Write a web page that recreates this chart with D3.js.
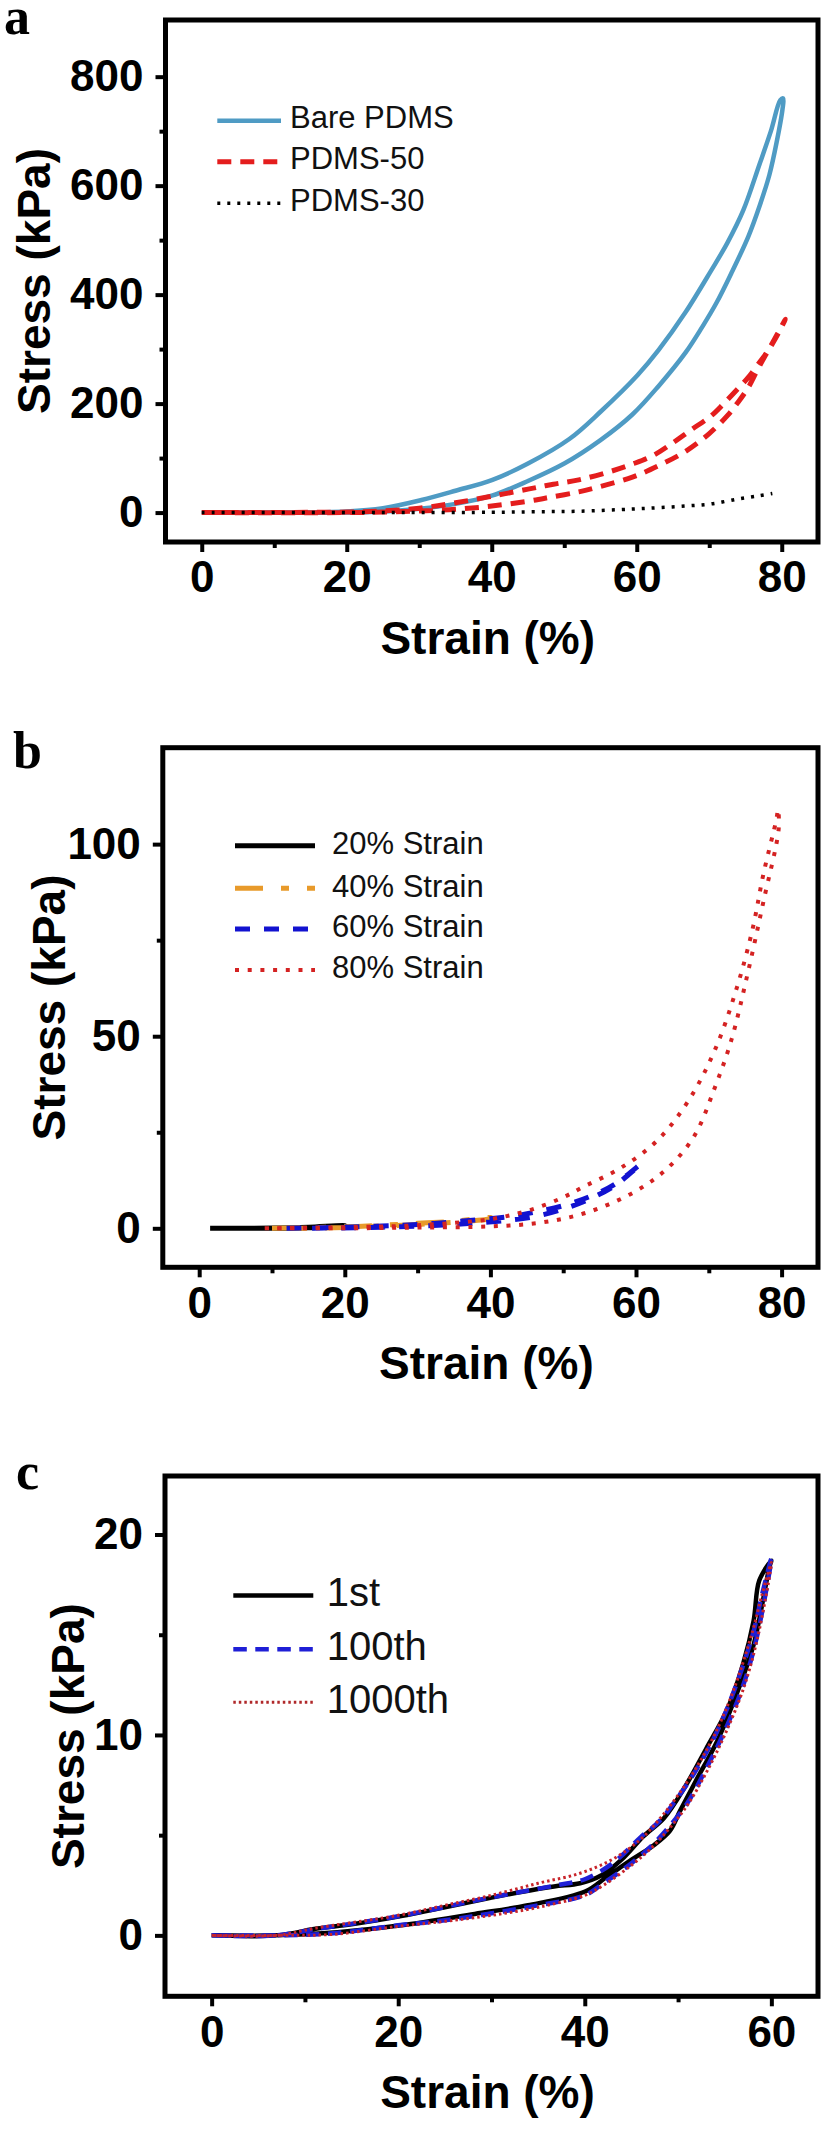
<!DOCTYPE html>
<html>
<head>
<meta charset="utf-8">
<script src="https://cdn.jsdelivr.net/npm/d3@7"></script>
<style>
  html, body { margin: 0; padding: 0; background: #fff; }
  svg { display: block; }
</style>
</head>
<body>
<div id="chart"></div>
<script>
// ---------------- DATA ----------------
// Panel a: tick labels
const aXTicks = [0, 20, 40, 60, 80];
const aYTicks = [0, 200, 400, 600, 800];
const aXMinor = [10, 30, 50, 70];
const aYMinor = [100, 300, 500, 700];
const aSeriesNames = ["Bare PDMS", "PDMS-50", "PDMS-30"];
// Bare PDMS loop (loading then unloading)
const bareStrain = [0, 10, 20, 25, 30.3, 35, 40.1, 45, 50.7, 55, 60.1, 63, 66.7, 70.3, 72.5, 74.7, 76.9, 78.5, 79.8, 80.2,
                    80.1, 79.3, 78.3, 77, 75.4, 73, 71, 69, 66.7, 63, 59.4, 55, 50, 45, 40, 35, 30, 25, 20, 10, 0];
const bareStress = [0, 0, 2, 8, 23, 40, 60, 90, 135, 185, 252, 298, 367, 445, 495, 555, 638, 700, 757, 760,
                    740, 680, 620, 565, 507, 438, 385, 340, 293, 232, 180, 133, 90, 58, 31, 16, 7, 2, 0, 0, 0];
// PDMS-50 loop
const p50Strain = [0, 20, 25, 30, 35, 40, 45, 48.5, 52, 56.5, 59.4, 62.3, 65.2, 67.4, 70.3, 72, 74, 75.5, 77, 78, 79, 80.5,
                   79.8, 78.5, 77.6, 76.5, 75.4, 74, 72.5, 70, 66.7, 63, 59.4, 55, 52, 48, 45, 40, 35, 30, 25, 20, 0];
const p50Stress = [0, 1, 3, 8, 18, 30, 43, 52, 60, 76, 89, 105, 130, 151, 178, 200, 228, 250, 277, 295, 318, 355,
                   336, 305, 285, 258, 230, 203, 178, 145, 112, 86, 65, 48, 38, 28, 21, 12, 6, 3, 1, 0, 0];
// PDMS-30 curve
const p30Strain = [0, 20, 30, 40, 46, 52, 59.4, 63, 66.7, 70.3, 74, 76.9, 78.7];
const p30Stress = [0, 0, 0, 0.5, 1.5, 2.5, 6.5, 9, 12, 16, 25, 31, 35];

// Panel b
const bXTicks = [0, 20, 40, 60, 80];
const bYTicks = [0, 50, 100];
const bXMinor = [10, 30, 50, 70];
const bYMinor = [25, 75];
const bSeriesNames = ["20% Strain", "40% Strain", "60% Strain", "80% Strain"];
const s20Strain = [1.5, 10, 15, 20, 20.1, 15, 10, 1.5];
const s20Stress = [0, 0.05, 0.25, 0.7, 0.6, 0.15, 0, 0];
const s40Strain = [10, 20, 25, 30, 35, 40, 40.2, 35, 30, 25, 20, 15, 10];
const s40Stress = [0, 0.4, 0.8, 1.3, 1.8, 2.8, 2.6, 1.6, 1.0, 0.6, 0.2, 0, 0];
const s60Strain = [12, 20, 30, 34.4, 42.5, 46.1, 50.2, 53.8, 57, 60.7, 59, 57, 53.5, 50, 46, 42, 35, 25, 15, 12];
const s60Stress = [0, 0.3, 1.0, 1.6, 3.0, 4.2, 6.0, 8.4, 11.4, 16.8, 14, 11, 7.5, 5, 3, 2, 1, 0.3, 0, 0];
const s80Strain = [9, 20, 30, 40, 45, 49.7, 53, 57.8, 62.9, 67.3, 70.9, 73.8, 76, 77.5, 79.3, 79.5,
                   79.6, 77.5, 75.3, 73.1, 70.9, 68, 64.3, 59.9, 53.4, 47, 40, 30, 20, 9];
const s80Stress = [0, 0.3, 0.8, 2.4, 4.5, 7.8, 11, 15.6, 22.8, 33.5, 46.7, 62.3, 77.8, 92.2, 106.6, 109,
                   104, 85, 66, 49, 37, 24, 15.6, 9.6, 4.2, 1.5, 0.5, 0.2, 0, 0];

// Panel c
const cXTicks = [0, 20, 40, 60];
const cYTicks = [0, 10, 20];
const cXMinor = [10, 30, 50];
const cYMinor = [5, 15];
const cSeriesNames = ["1st", "100th", "1000th"];
const c1Strain = [0, 7, 11.3, 15, 20.3, 25, 29.9, 33, 36.7, 39.5, 41.8, 44, 46.3, 48.5, 50.8, 53, 55.3, 57, 58.1, 58.7, 60,
                  59.8, 58.1, 56.4, 54.2, 51.9, 50.2, 49.1, 47.4, 45.1, 42.3, 40.1, 33.9, 28.2, 20.3, 13.5, 6.8, 0];
const c1Stress = [0, 0, 0.34, 0.55, 0.96, 1.4, 1.87, 2.15, 2.44, 2.6, 3.0, 3.8, 4.95, 5.86, 7.46, 9.3, 11.3, 13.6, 15.7, 17.7, 18.7,
                  18.4, 14.5, 12.2, 9.7, 7.7, 6.2, 5.2, 4.5, 3.8, 2.9, 2.2, 1.5, 1.07, 0.5, 0.16, 0, 0];
const c100Strain = [0, 7, 11, 20, 30, 37, 40, 43, 46, 48, 50, 52, 54, 56, 58, 59, 60,
                    58.5, 57, 55, 53, 51, 49, 47, 45, 42, 40, 35, 30, 25, 20, 13, 7, 0];
const c100Stress = [0, 0, 0.3, 0.95, 1.9, 2.5, 2.8, 3.6, 4.9, 5.7, 6.9, 8.3, 10, 12.2, 15, 17, 18.8,
                    15, 12.5, 10.2, 8.3, 6.6, 5.4, 4.4, 3.6, 2.6, 2.0, 1.5, 1.1, 0.75, 0.5, 0.1, 0, 0];
const c1000Strain = [0, 7, 11, 20, 25, 30, 35, 39.5, 43, 46, 48, 50, 52, 54, 56, 58, 59, 60,
                     58.5, 57, 55, 53, 51, 49, 47, 45, 42, 40, 35, 30, 25, 20, 13, 7, 0];
const c1000Stress = [0, 0, 0.35, 1.0, 1.5, 2.0, 2.6, 3.1, 3.8, 4.8, 5.8, 7.0, 8.4, 10.1, 12.3, 15.2, 17, 18.6,
                     14.8, 12.3, 10, 8.1, 6.5, 5.3, 4.3, 3.5, 2.5, 2.0, 1.4, 1.0, 0.7, 0.45, 0.05, 0, 0];

// ---------------- DRAWING ----------------
const W = 826, H = 2138;
const svg = d3.select("#chart").append("svg").attr("width", W).attr("height", H)
  .style("background", "#fff");
svg.append("rect").attr("width", W).attr("height", H).attr("fill", "#fff");

const SANS = "'Liberation Sans', Arial, Helvetica, sans-serif";
const SERIF = "'Liberation Serif', 'Times New Roman', serif";

function zip(xs, ys) { return xs.map((x, i) => [x, ys[i]]); }

function drawPanel(p) {
  const g = svg.append("g");
  const x = d3.scaleLinear().domain(p.xDomain).range([p.left, p.right]);
  const y = d3.scaleLinear().domain(p.yDomain).range([p.bottom, p.top]);
  const line = d3.line().x(d => x(d[0])).y(d => y(d[1])).curve(d3.curveCatmullRom.alpha(0.5));

  // curves
  p.series.forEach(s => {
    g.append("path")
      .attr("d", line(zip(s.xs, s.ys)))
      .attr("fill", "none")
      .attr("stroke", s.color)
      .attr("stroke-width", s.width)
      .attr("stroke-dasharray", s.dash || null)
      .attr("stroke-linejoin", "round");
  });

  // axes
  const styleAxis = (ax) => {
    ax.select(".domain").remove();
    ax.selectAll(".tick line").attr("stroke", "#000").attr("stroke-width", 4);
    ax.selectAll(".tick text")
      .attr("fill", "#000")
      .style("font-family", SANS)
      .style("font-weight", "bold")
      .style("font-size", "44px");
  };
  const xAx = g.append("g").attr("transform", `translate(0,${p.bottom})`)
    .call(d3.axisBottom(x).tickValues(p.xTicks).tickSize(10).tickPadding(9).tickFormat(d3.format("d")));
  styleAxis(xAx);
  const xMin = g.append("g").attr("transform", `translate(0,${p.bottom})`)
    .call(d3.axisBottom(x).tickValues(p.xMinor).tickSize(6).tickFormat(""));
  styleAxis(xMin);
  const yAx = g.append("g").attr("transform", `translate(${p.left},0)`)
    .call(d3.axisLeft(y).tickValues(p.yTicks).tickSize(10).tickPadding(12).tickFormat(d3.format("d")));
  styleAxis(yAx);
  const yMin = g.append("g").attr("transform", `translate(${p.left},0)`)
    .call(d3.axisLeft(y).tickValues(p.yMinor).tickSize(6).tickFormat(""));
  styleAxis(yMin);

  // frame
  g.append("rect")
    .attr("x", p.left).attr("y", p.top)
    .attr("width", p.right - p.left).attr("height", p.bottom - p.top)
    .attr("fill", "none").attr("stroke", "#000").attr("stroke-width", 5);

  // axis titles
  g.append("text")
    .attr("x", (p.left + p.right) / 2 - 4).attr("y", p.bottom + 112)
    .attr("text-anchor", "middle")
    .style("font-family", SANS).style("font-weight", "bold").style("font-size", "46px")
    .text("Strain (%)");
  g.append("text")
    .attr("transform", `translate(${p.yTitleX},${(p.top + p.bottom) / 2}) rotate(-90)`)
    .attr("text-anchor", "middle")
    .style("font-family", SANS).style("font-weight", "bold").style("font-size", "46px")
    .text("Stress (kPa)");

  // panel label
  g.append("text")
    .attr("x", p.labelX).attr("y", p.labelY)
    .style("font-family", SERIF).style("font-weight", "bold").style("font-size", "52px")
    .text(p.label);

  // legend
  const L = p.legend;
  p.series.forEach((s, i) => {
    const ry = L.rows[i];
    g.append("line")
      .attr("x1", L.x1).attr("x2", L.x2).attr("y1", ry).attr("y2", ry)
      .attr("stroke", s.legendColor || s.color)
      .attr("stroke-width", s.legendWidth || s.width)
      .attr("stroke-dasharray", s.legendDash || s.dash || null);
    g.append("text")
      .attr("x", L.tx).attr("y", ry + L.dy)
      .style("font-family", SANS).style("font-size", L.fontSize + "px")
      .attr("fill", "#111")
      .text(p.names[i]);
  });
}

drawPanel({
  left: 165.5, right: 818, top: 20, bottom: 542,
  xDomain: [-5, 85], yDomain: [-54, 904],
  xTicks: aXTicks, yTicks: aYTicks, xMinor: aXMinor, yMinor: aYMinor,
  yTitleX: 50, label: "a", labelX: 4, labelY: 34,
  names: aSeriesNames,
  series: [
    { xs: bareStrain, ys: bareStress, color: "#4f9bc4", width: 4.5 },
    { xs: p50Strain, ys: p50Stress, color: "#e41d1d", width: 5, dash: "14,9" },
    { xs: p30Strain, ys: p30Stress, color: "#000", width: 3.5, dash: "3,7" }
  ],
  legend: { rows: [120.7, 161.7, 203.3], x1: 217.3, x2: 281, tx: 290, dy: 7.6, fontSize: 31 }
});

drawPanel({
  left: 162.8, right: 818, top: 747.7, bottom: 1267.3,
  xDomain: [-5, 85], yDomain: [-10.15, 125.1],
  xTicks: bXTicks, yTicks: bYTicks, xMinor: bXMinor, yMinor: bYMinor,
  yTitleX: 65, label: "b", labelX: 13, labelY: 768,
  names: bSeriesNames,
  series: [
    { xs: s20Strain, ys: s20Stress, color: "#000", width: 5 },
    { xs: s40Strain, ys: s40Stress, color: "#e89a2a", width: 5, dash: "28,18,8,18" },
    { xs: s60Strain, ys: s60Stress, color: "#1212d0", width: 5, dash: "15,14" },
    { xs: s80Strain, ys: s80Stress, color: "#d42222", width: 4, dash: "4,8.7" }
  ],
  legend: { rows: [845.7, 888.3, 929, 970], x1: 235, x2: 315, tx: 332, dy: 8.4, fontSize: 31 }
});

drawPanel({
  left: 165, right: 818, top: 1476, bottom: 1996.3,
  xDomain: [-5, 65], yDomain: [-3.04, 22.92],
  xTicks: cXTicks, yTicks: cYTicks, xMinor: cXMinor, yMinor: cYMinor,
  yTitleX: 84, label: "c", labelX: 16, labelY: 1489,
  names: cSeriesNames,
  series: [
    { xs: c1Strain, ys: c1Stress, color: "#000", width: 4.5 },
    { xs: c100Strain, ys: c100Stress, color: "#1f1fd6", width: 4.5, dash: "13.5,8.5" },
    { xs: c1000Strain, ys: c1000Stress, color: "#c8242a", width: 3, dash: "2.5,3", legendColor: "#b0282a" }
  ],
  legend: { rows: [1595.4, 1649.3, 1702.3], x1: 233.3, x2: 313.3, tx: 326.7, dy: 10.7, fontSize: 40 }
});
</script>
</body>
</html>
